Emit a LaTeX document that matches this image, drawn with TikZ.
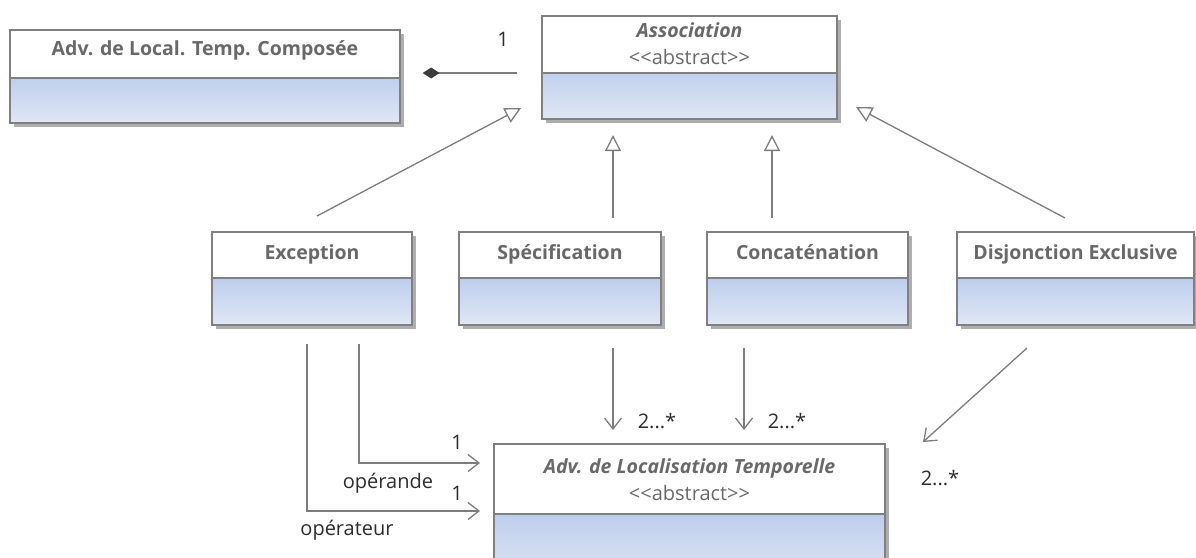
\documentclass[tikz,border=0pt]{standalone}
\usepackage{fontspec}
\setmainfont{Open Sans}
\usetikzlibrary{arrows.meta,shadows,calc}
\definecolor{boxline}{RGB}{128,128,128}
\definecolor{nametxt}{RGB}{105,105,105}
\definecolor{gtop}{RGB}{155,181,228}
\definecolor{gbot}{RGB}{224,231,245}
\definecolor{lbl}{RGB}{45,45,45}
\definecolor{conn}{RGB}{125,125,125}
\definecolor{diam}{RGB}{60,60,60}
\newcommand{\abstr}{<\kern0pt<abstract>\kern0pt>}
\tikzset{
  classbox/.style={draw=boxline, line width=1.3pt, fill=white, inner sep=0pt,
    drop shadow={shadow xshift=3.5pt, shadow yshift=-3.5pt, opacity=0.45, fill=black!70},
    path picture={
      \shade[top color=gtop, bottom color=gbot]
        ($(path picture bounding box.north west)+(0,#1)$) rectangle (path picture bounding box.south east);
      \draw[boxline, line width=1.3pt]
        ($(path picture bounding box.north west)+(0,#1)$) -- ($(path picture bounding box.north east)+(0,#1)$);}},
  nm/.style={text=nametxt, font=\fontsize{19.5}{22}\selectfont\bfseries, inner sep=0pt, anchor=base},
  nmit/.style={text=nametxt, font=\fontsize{19.5}{22}\selectfont\bfseries\itshape, inner sep=0pt, anchor=base},
  stereo/.style={text=nametxt, font=\fontsize{20}{22}\selectfont, inner sep=0pt, anchor=base},
  lab/.style={text=lbl, font=\fontsize{20}{22}\selectfont, inner sep=0pt, anchor=base},
  cline/.style={draw=conn, line width=1.3pt},
  gen/.style={cline, -{Triangle[open, length=16pt, width=16pt, fill=white]}},
  nav/.style={cline, -{Straight Barb[length=11pt, width=17pt, line width=1.3pt]}},
  compo/.style={cline, -{Diamond[length=17pt, width=11pt, fill=diam, color=diam]}}
}
\begin{document}
\begin{tikzpicture}[x=1pt, y=-1pt]
\useasboundingbox (0,0) rectangle (1196,557);
\begin{scope}
\clip (0,0) rectangle (1196,557);
% classes
\node[classbox=48, minimum width=390pt, minimum height=93pt] (comp) at (205,76.5) {};
\node[classbox=57, minimum width=295pt, minimum height=103pt] (assoc) at (689.5,67.5) {};
\node[classbox=46, minimum width=200pt, minimum height=93pt] (exc) at (312,278.5) {};
\node[classbox=46, minimum width=202pt, minimum height=93pt] (spec) at (560,278.5) {};
\node[classbox=46, minimum width=201pt, minimum height=93pt] (conc) at (807.5,278.5) {};
\node[classbox=46, minimum width=237pt, minimum height=93pt] (disj) at (1075.5,278.5) {};
\node[classbox=70, minimum width=391pt, minimum height=140pt] (advloc) at (689.5,514) {};
\end{scope}
% class texts (base positions)
\node[nm] (comp-t) at ($(comp.north)+(0,26)$) {Adv. de Local. Temp. Composée};
\node[nmit] (assoc-t) at ($(assoc.north)+(0,22)$) {Association};
\node[stereo] (assoc-s) at ($(assoc.north)+(0,49)$) {\abstr};
\node[nm] (exc-t) at ($(exc.north)+(0,28)$) {Exception};
\node[nm] (spec-t) at ($(spec.north)+(0,28)$) {Spécification};
\node[nm] (conc-t) at ($(conc.north)+(0,28)$) {Concaténation};
\node[nm] (disj-t) at ($(disj.north)+(0,28)$) {Disjonction Exclusive};
\node[nmit] (advloc-t) at ($(advloc.north)+(0,30)$) {Adv. de Localisation Temporelle};
\node[stereo] (advloc-s) at ($(advloc.north)+(0,57)$) {\abstr};
% composition
\coordinate (cy) at (0,73);
\draw[compo, shorten <=24pt, shorten >=22pt] (assoc.west |- cy) -- (comp.east |- cy);
\node[lab] (m1) at (503,46) {1};
% generalizations
\coordinate (g1a) at (317,216); \coordinate (g1b) at (521,108);
\coordinate (g2a) at (613,218); \coordinate (g2b) at (613,135);
\coordinate (g3a) at (772,218); \coordinate (g3b) at (772,135);
\coordinate (g4a) at (1065,218); \coordinate (g4b) at (856,107);
\draw[gen] (g1a) -- (g1b);
\draw[gen] (g2a) -- (g2b);
\draw[gen] (g3a) -- (g3b);
\draw[gen] (g4a) -- (g4b);
% navigable associations
\coordinate (a1a) at (613,348); \coordinate (a1b) at (613,430);
\coordinate (a2a) at (744,348); \coordinate (a2b) at (744,430);
\coordinate (a3a) at (1027,348); \coordinate (a3b) at (923,442);
\draw[nav] (a1a) -- (a1b);
\draw[nav] (a2a) -- (a2b);
\draw[nav] (a3a) -- (a3b);
\coordinate (e1a) at (359,344); \coordinate (e1b) at (480,463);
\coordinate (e2a) at (307,344); \coordinate (e2b) at (480,511);
\draw[nav] (e1a) |- (e1b);
\draw[nav] (e2a) |- (e2b);
% labels
\node[lab] (l1) at (457,449) {1};
\node[lab] (l2) at (388,488) {opérande};
\node[lab] (l3) at (457,500) {1};
\node[lab] (l4) at (347,535) {opérateur};
\node[lab] (l5) at (657,428) {2...*};
\node[lab] (l6) at (787,428) {2...*};
\node[lab] (l7) at (940,485) {2...*};
\end{tikzpicture}
\end{document}
